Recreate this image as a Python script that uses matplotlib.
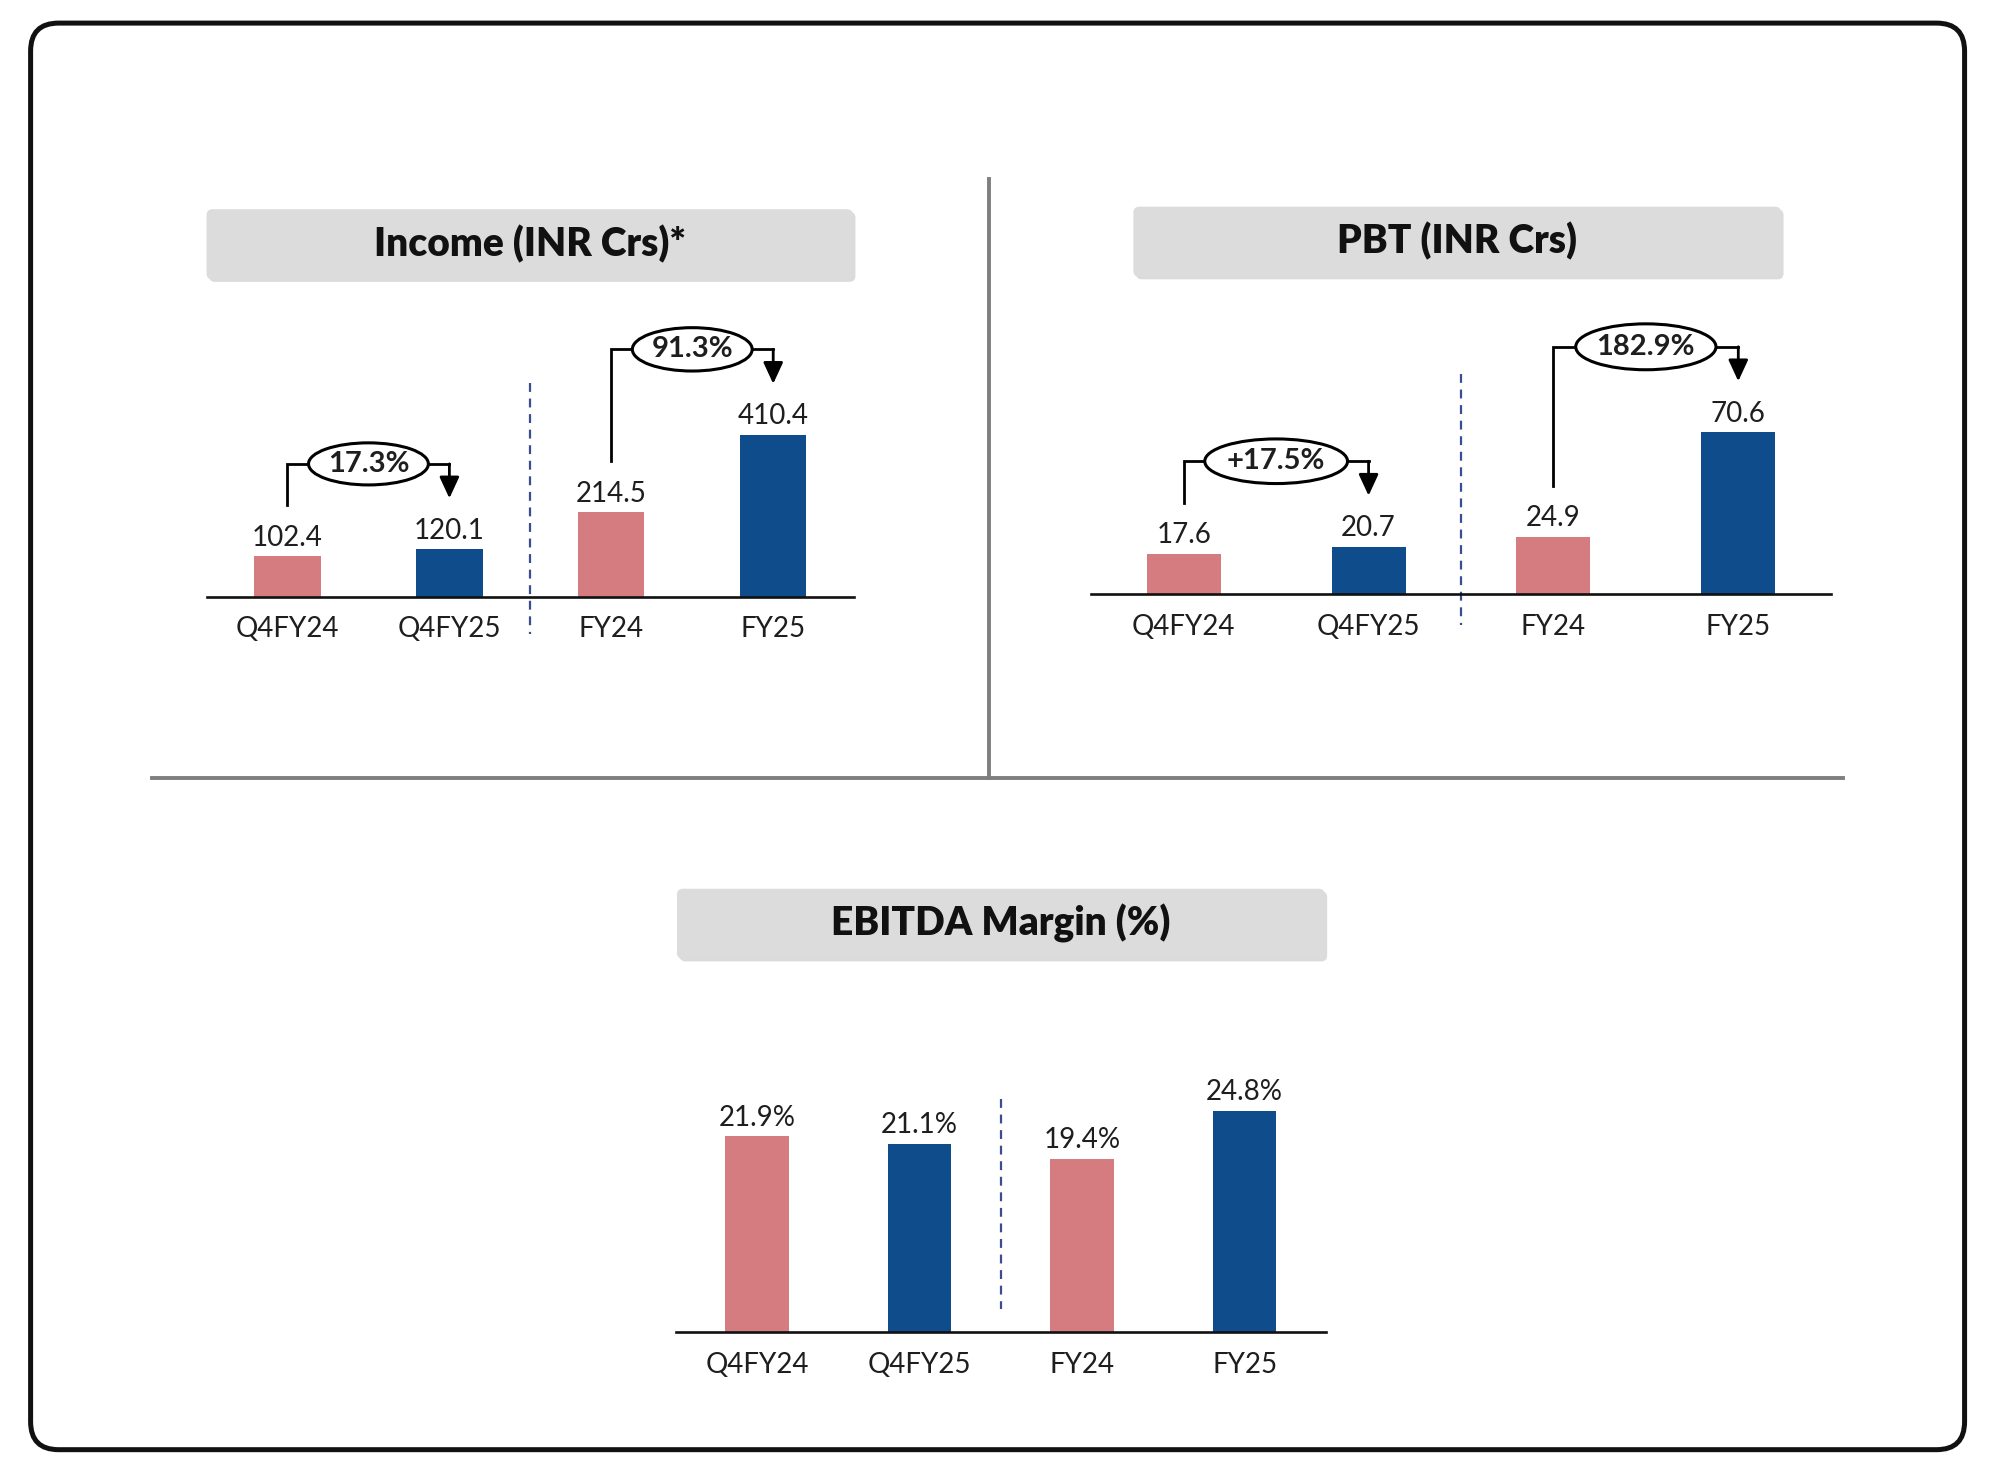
import matplotlib
matplotlib.use('Agg')
import matplotlib.pyplot as plt
from matplotlib.patches import FancyBboxPatch, Ellipse
from matplotlib.lines import Line2D

# ---------------- data ----------------
categories = ['Q4FY24', 'Q4FY25', 'FY24', 'FY25']
income = [102.4, 120.1, 214.5, 410.4]
pbt = [17.6, 20.7, 24.9, 70.6]
ebitda = [21.9, 21.1, 19.4, 24.8]
income_growth = ['17.3%', '91.3%']
pbt_growth = ['+17.5%', '182.9%']
titles = ['Income (INR Crs)*', 'PBT (INR Crs)', 'EBITDA Margin (%)']

PINK = '#D47C80'
BLUE = '#0F4C8B'
bar_colors = [PINK, BLUE, PINK, BLUE]
TXT = '#1e1e1e'

plt.rcParams['font.family'] = ['Lato', 'DejaVu Sans']

# reference layout units (px of a 1568x1160 canvas)
W, H = 1568.0, 1160.0
FIG_W, FIG_H = 19.99, 14.79
S = FIG_W / W  # inches per layout unit

fig = plt.figure(figsize=(FIG_W, FIG_H), dpi=100)
fig.patch.set_facecolor('white')


def fx(x):
    return x / W


def fy(y):
    return 1 - y / H


def make_axes(left, right, top, base):
    return fig.add_axes([fx(left), fy(base), (right - left) / W, (base - top) / H])


def dxu(ax, u):
    """layout units -> x data units"""
    p = ax.transData.transform([(0, 0), (1, 0)])
    return u * (FIG_W * 100 / W) / (p[1][0] - p[0][0])


def dyu(ax, u):
    """layout units -> y data units"""
    p = ax.transData.transform([(0, 0), (0, 1)])
    return u * (FIG_H * 100 / H) / (p[1][1] - p[0][1])


def title_box(x0, x1, y0, y1, text):
    shadow = FancyBboxPatch((x0 * S + 2 * S, (H - y1) * S - 2 * S), (x1 - x0) * S, (y1 - y0) * S,
                            boxstyle='round,pad=0,rounding_size=0.06', transform=fig.dpi_scale_trans,
                            fc='#c4c4c4', ec='none', alpha=0.6, zorder=1)
    box = FancyBboxPatch((x0 * S, (H - y1) * S), (x1 - x0) * S, (y1 - y0) * S,
                         boxstyle='round,pad=0,rounding_size=0.06', transform=fig.dpi_scale_trans,
                         fc='#dcdcdc', ec='none', zorder=2)
    fig.add_artist(shadow)
    fig.add_artist(box)
    fig.text(fx((x0 + x1) / 2), fy((y0 + y1) / 2), text, ha='center', va='center',
             fontsize=28, fontweight='heavy', color='#111111', zorder=3)


def bar_chart(ax, vals, bar_w, tall_px, top_px, fmt, dash):
    ax.bar(range(len(vals)), vals, width=bar_w, color=bar_colors, zorder=1)
    ax.set_xlim(-0.5, len(vals) - 0.5)
    ax.set_ylim(0, max(vals) * top_px / tall_px)
    for s in ['top', 'left', 'right']:
        ax.spines[s].set_visible(False)
    ax.spines['bottom'].set_linewidth(1.9)
    ax.spines['bottom'].set_color('#111111')
    ax.set_yticks([])
    ax.set_xticks(range(len(categories)), categories)
    ax.tick_params(axis='x', length=0, pad=14, labelsize=20, labelcolor=TXT)
    ax.patch.set_alpha(0)
    for i, v in enumerate(vals):
        ax.annotate(fmt.format(v), (i, v), xytext=(0, 4), textcoords='offset points',
                    ha='center', va='bottom', fontsize=20, color=TXT)
    d_top, d_bot = dash
    ax.plot([1.5, 1.5], [dyu(ax, d_top), dyu(ax, d_bot)], ls=(0, (4, 3)), color='#3b4d8e',
            lw=1.6, clip_on=False, zorder=2)


def bracket(ax, vals, i, j, label, ew, eh):
    top = max(vals[i], vals[j])
    y0 = vals[i] + dyu(ax, 40)
    lvl = top + dyu(ax, 67)
    tip = vals[j] + dyu(ax, 40)
    ax.plot([i, i, j], [y0, lvl, lvl], color='black', lw=2.0, solid_joinstyle='miter',
            clip_on=False, zorder=4)
    ax.annotate('', xy=(j, tip), xytext=(j, lvl),
                arrowprops=dict(arrowstyle='-|>,head_length=0.65,head_width=0.3', mutation_scale=20,
                                color='black', lw=2.0, shrinkA=0, shrinkB=0),
                annotation_clip=False, zorder=4)
    xc = (i + j) / 2
    ax.add_patch(Ellipse((xc, lvl), dxu(ax, ew), dyu(ax, eh), fc='white', ec='black', lw=2.2,
                         zorder=5, clip_on=False))
    ax.text(xc, lvl, label, ha='center', va='center', fontsize=21, fontweight='bold',
            color=TXT, zorder=6)


# ---------------- outer frame and dividers ----------------
frame = FancyBboxPatch((24 * S, (H - 1137) * S), (1541 - 24) * S, (1137 - 18) * S,
                       boxstyle='round,pad=0,rounding_size=0.28', transform=fig.dpi_scale_trans,
                       fill=False, ec='#111111', lw=3.6, zorder=10)
fig.add_artist(frame)
fig.add_artist(Line2D([fx(776), fx(776)], [fy(140), fy(610)], transform=fig.transFigure,
                      color='#7f7f7f', lw=2.8))
fig.add_artist(Line2D([fx(119), fx(1446)], [fy(610), fy(610)], transform=fig.transFigure,
                      color='#7f7f7f', lw=2.8))

# ---------------- titles ----------------
title_box(162, 669, 164, 219, titles[0])
title_box(889, 1397, 162, 217, titles[1])
title_box(531, 1039, 697, 752, titles[2])

# ---------------- Income ----------------
ax1 = make_axes(162, 670, 230, 468)
bar_chart(ax1, income, 0.41, 127, 238, '{:.1f}', (168, -29))
bracket(ax1, income, 0, 1, income_growth[0], 94, 33)
bracket(ax1, income, 2, 3, income_growth[1], 94, 34)

# ---------------- PBT ----------------
ax2 = make_axes(856, 1436, 230, 466)
bar_chart(ax2, pbt, 0.40, 127, 236, '{:.1f}', (173, -24))
bracket(ax2, pbt, 0, 1, pbt_growth[0], 112, 35)
bracket(ax2, pbt, 2, 3, pbt_growth[1], 110, 36)

# ---------------- EBITDA ----------------
ax3 = make_axes(530, 1040, 800, 1045)
bar_chart(ax3, ebitda, 0.39, 174, 245, '{:.1f}%', (183, 18))

fig.savefig('out.png', dpi=100, facecolor='white')
